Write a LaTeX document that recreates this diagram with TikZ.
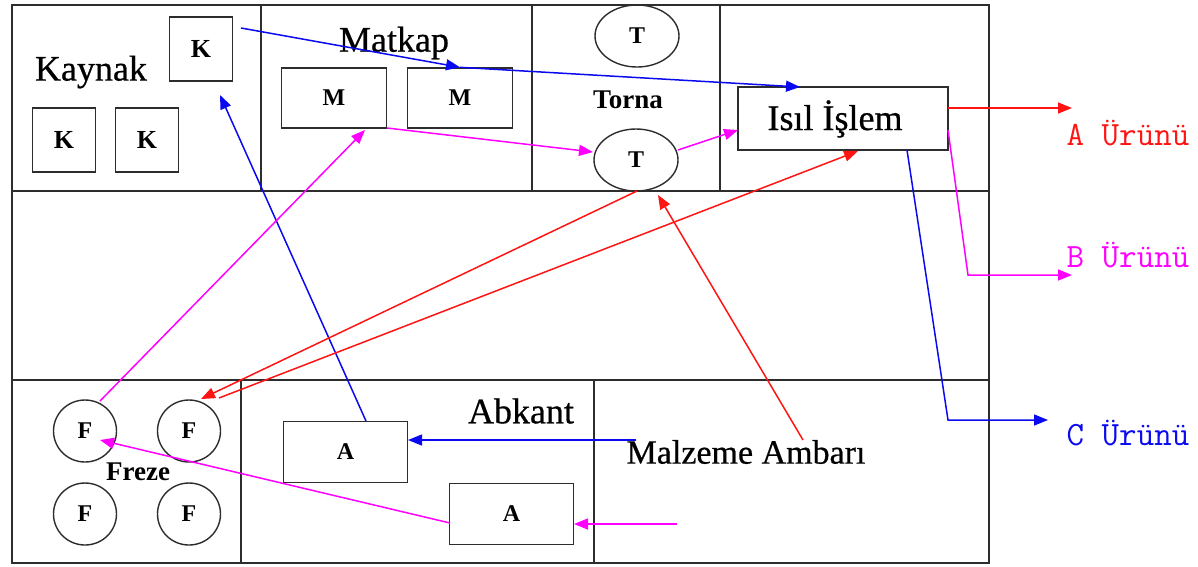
\documentclass[tikz,border=0pt]{standalone}
\usepackage{fontspec}
\setmainfont{Liberation Serif}
\newfontfamily\heavyfont[FakeBold=0.6]{Liberation Serif}
\usetikzlibrary{arrows.meta,shapes.geometric}
\definecolor{framec}{RGB}{45,45,45}
\definecolor{cred}{RGB}{255,20,20}
\definecolor{cmag}{RGB}{255,0,255}
\definecolor{cblue}{RGB}{10,10,240}
\begin{document}
\begin{tikzpicture}[x=1pt,y=-1pt,
  wall/.style={draw=framec, line width=1.6pt},
  mach/.style={draw=framec, line width=1.4pt, rectangle, inner sep=0pt, font=\bfseries\fontsize{24}{26}\selectfont},
  kmach/.style={mach, minimum width=63pt, minimum height=64pt, font=\bfseries\fontsize{26}{28}\selectfont},
  mmach/.style={mach, minimum width=105pt, minimum height=60pt},
  amach/.style={mach, minimum width=124pt, minimum height=61pt},
  tmach/.style={draw=framec, line width=1.4pt, ellipse, inner sep=0pt, minimum width=84pt, minimum height=62pt, font=\bfseries\fontsize{24}{26}\selectfont},
  fmach/.style={draw=framec, line width=1.4pt, ellipse, inner sep=0pt, minimum width=63pt, minimum height=62pt, font=\bfseries\fontsize{24}{26}\selectfont},
  lbl/.style={inner sep=0pt, font=\heavyfont\fontsize{36}{40}\selectfont},
  sublbl/.style={inner sep=0pt, font=\bfseries\fontsize{27}{30}\selectfont},
  prod/.style={inner sep=0pt, font=\ttfamily\fontsize{34}{36}\selectfont},
  flow/.style={line width=1.5pt, -{Triangle[length=14pt,width=11pt]}},
]
\useasboundingbox (0,0) rectangle (1198,566);
% walls
\draw[wall] (12,5) rectangle (989,563);
\draw[wall] (12,191) -- (989,191);
\draw[wall] (12,380) -- (989,380);
\draw[wall] (261,5) -- (261,191);
\draw[wall] (532,5) -- (532,191);
\draw[wall] (720,5) -- (720,191);
\draw[wall] (241,380) -- (241,563);
\draw[wall] (594,380) -- (594,563);
% Kaynak
\node[lbl] (kaynak) at (91,72) {Kaynak};
\node[kmach] (Ktop) at (201,49) {K};
\node[kmach] (K1) at (64,140) {K};
\node[kmach] (K2) at (147,140) {K};
% Matkap
\node[lbl] (matkap) at (394,43) {Matkap};
\node[mmach] (M1) at (334,98) {M};
\node[mmach] (M2) at (460,98) {M};
% Torna
\node[tmach] (T1) at (637,36) {T};
\node[sublbl] (torna) at (628,100) {Torna};
\node[tmach] (T2) at (636,160) {T};
% Isil islem
\node[draw=framec, line width=1.4pt, rectangle, minimum width=210pt, minimum height=63pt, inner sep=0pt] (Isil) at (843,118.5) {};
\node[lbl] (isiltxt) at (835,119) {Isıl İşlem};
% Freze
\node[fmach] (F1) at (85,431) {F};
\node[fmach] (F2) at (189,431) {F};
\node[fmach] (F3) at (85,514) {F};
\node[fmach] (F4) at (189,514) {F};
\node[sublbl] (freze) at (138,472) {Freze};
% Abkant
\node[lbl] (abkant) at (521,411) {Abkant};
\node[amach] (A1) at (345.5,452) {A};
\node[amach] (A2) at (511.5,514) {A};
% Malzeme
\node[lbl, font=\heavyfont\fontsize{34}{38}\selectfont] (malz) at (746,452) {Malzeme Ambarı};
% products
\node[prod, text=cred] (pA) at (1128,133) {A Ürünü};
\node[prod, text=cmag] (pB) at (1128,255) {B Ürünü};
\node[prod, text=cblue] (pC) at (1128,433) {C Ürünü};
% coordinates
\coordinate (kout) at (241,28);
\coordinate (isiltop) at (800,87);
\coordinate (ktip) at (220,95);
\coordinate (m1out) at (387,128);
\coordinate (m1in) at (365,130);
\coordinate (t2in) at (593,152);
\coordinate (t2out) at (678,150);
\coordinate (isilw) at (738,130);
\coordinate (isilb) at (858,151);
\coordinate (f2out) at (219,398);
\coordinate (f2in) at (201,399);
\coordinate (t2bot) at (637,191);
\coordinate (t2tip) at (658,195);
\coordinate (malztop) at (803,440);
\coordinate (malzA) at (636,440);
\coordinate (a1in) at (408,440);
\coordinate (malzA2) at (677,524);
\coordinate (a2in) at (574,524);
\coordinate (a2out) at (450,523);
\coordinate (f1in) at (100,440);
\coordinate (f1out) at (100,401);
\coordinate (a1top) at (366,421);
\coordinate (isilA) at (948,108);
\coordinate (endA) at (1072,108);
\coordinate (isilB) at (948,130);
\coordinate (bendB) at (968,275);
\coordinate (endB) at (1072,275);
\coordinate (isilC) at (907,150);
\coordinate (bendC) at (948,420);
\coordinate (endC) at (1048,420);
% blue flows
\draw[flow, cblue] (kout) -- (M2.north);
\draw[flow, cblue] (M2.north) -- (isiltop);
\draw[flow, cblue] (a1top) -- (ktip);
\draw[flow, cblue] (malzA) -- (a1in);
\draw[flow, cblue] (isilC) -- (bendC) -- (endC);
% magenta flows
\draw[flow, cmag] (m1out) -- (t2in);
\draw[flow, cmag] (t2out) -- (isilw);
\draw[flow, cmag] (f1out) -- (m1in);
\draw[flow, cmag] (malzA2) -- (a2in);
\draw[flow, cmag] (a2out) -- (f1in);
\draw[flow, cmag] (isilB) -- (bendB) -- (endB);
% red flows
\draw[flow, cred] (t2bot) -- (f2in);
\draw[flow, cred] (f2out) -- (isilb);
\draw[flow, cred] (malztop) -- (t2tip);
\draw[flow, cred] (isilA) -- (endA);
\end{tikzpicture}
\end{document}
